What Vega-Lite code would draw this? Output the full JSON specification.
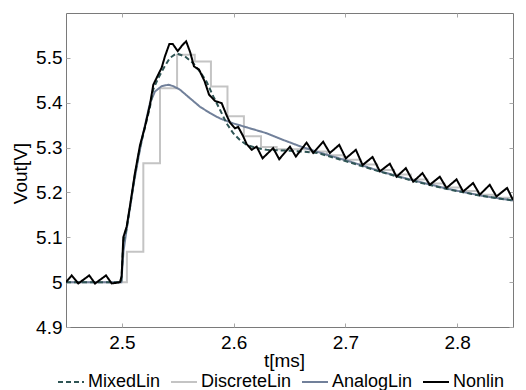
{
  "$schema": "https://vega.github.io/schema/vega-lite/v6.json",
  "width": 447,
  "height": 314,
  "autosize": {"type": "none"},
  "padding": {"left": 66, "top": 13, "right": 13, "bottom": 63},
  "background": "white",
  "config": {
    "view": {"stroke": "#7a7a7a", "strokeWidth": 1},
    "font": "Liberation Sans",
    "axis": {
      "domain": false,
      "grid": false,
      "tickSize": -4,
      "tickColor": "#a8a8a8",
      "labelFont": "Liberation Sans",
      "labelFontSize": 19,
      "labelColor": "#000000",
      "titleFont": "Liberation Sans",
      "titleFontSize": 19,
      "titleFontWeight": "normal",
      "titleColor": "#000000"
    },
    "legend": {
      "orient": "none",
      "legendX": -9,
      "legendY": 355,
      "direction": "horizontal",
      "gridAlign": "none",
      "padding": 0,
      "symbolType": "stroke",
      "symbolSize": 676,
      "symbolStrokeWidth": 2,
      "labelFont": "Liberation Sans",
      "labelFontSize": 18,
      "labelColor": "#000000",
      "labelOffset": 3,
      "columnPadding": 6,
      "title": null
    }
  },
  "datasets": {
    "d": [
      {"series": "DiscreteLin", "t": 2.45, "v": 5.0},
      {"series": "DiscreteLin", "t": 2.5045, "v": 5.068},
      {"series": "DiscreteLin", "t": 2.5192, "v": 5.265},
      {"series": "DiscreteLin", "t": 2.5341, "v": 5.432},
      {"series": "DiscreteLin", "t": 2.5494, "v": 5.507},
      {"series": "DiscreteLin", "t": 2.5652, "v": 5.492},
      {"series": "DiscreteLin", "t": 2.5797, "v": 5.436},
      {"series": "DiscreteLin", "t": 2.5945, "v": 5.37},
      {"series": "DiscreteLin", "t": 2.6092, "v": 5.325},
      {"series": "DiscreteLin", "t": 2.6245, "v": 5.301},
      {"series": "DiscreteLin", "t": 2.6385, "v": 5.296},
      {"series": "DiscreteLin", "t": 2.6535, "v": 5.296},
      {"series": "DiscreteLin", "t": 2.6685, "v": 5.291},
      {"series": "DiscreteLin", "t": 2.6835, "v": 5.283},
      {"series": "DiscreteLin", "t": 2.6985, "v": 5.273},
      {"series": "DiscreteLin", "t": 2.7135, "v": 5.262},
      {"series": "DiscreteLin", "t": 2.7285, "v": 5.25},
      {"series": "DiscreteLin", "t": 2.7435, "v": 5.24},
      {"series": "DiscreteLin", "t": 2.7585, "v": 5.229},
      {"series": "DiscreteLin", "t": 2.7735, "v": 5.22},
      {"series": "DiscreteLin", "t": 2.7885, "v": 5.211},
      {"series": "DiscreteLin", "t": 2.8035, "v": 5.203},
      {"series": "DiscreteLin", "t": 2.8185, "v": 5.195},
      {"series": "DiscreteLin", "t": 2.8335, "v": 5.188},
      {"series": "DiscreteLin", "t": 2.85, "v": 5.183},

      {"series": "AnalogLin", "t": 2.45, "v": 5.0},
      {"series": "AnalogLin", "t": 2.4995, "v": 5.0},
      {"series": "AnalogLin", "t": 2.5015, "v": 5.07},
      {"series": "AnalogLin", "t": 2.505, "v": 5.13},
      {"series": "AnalogLin", "t": 2.51, "v": 5.21},
      {"series": "AnalogLin", "t": 2.515, "v": 5.28},
      {"series": "AnalogLin", "t": 2.5191, "v": 5.332},
      {"series": "AnalogLin", "t": 2.5251, "v": 5.399},
      {"series": "AnalogLin", "t": 2.5296, "v": 5.425},
      {"series": "AnalogLin", "t": 2.5356, "v": 5.437},
      {"series": "AnalogLin", "t": 2.5415, "v": 5.44},
      {"series": "AnalogLin", "t": 2.546, "v": 5.437},
      {"series": "AnalogLin", "t": 2.552, "v": 5.429},
      {"series": "AnalogLin", "t": 2.5609, "v": 5.41},
      {"series": "AnalogLin", "t": 2.5699, "v": 5.391},
      {"series": "AnalogLin", "t": 2.5788, "v": 5.377},
      {"series": "AnalogLin", "t": 2.5877, "v": 5.365},
      {"series": "AnalogLin", "t": 2.5996, "v": 5.354},
      {"series": "AnalogLin", "t": 2.6145, "v": 5.343},
      {"series": "AnalogLin", "t": 2.6295, "v": 5.332},
      {"series": "AnalogLin", "t": 2.6444, "v": 5.317},
      {"series": "AnalogLin", "t": 2.6593, "v": 5.303},
      {"series": "AnalogLin", "t": 2.6742, "v": 5.291},
      {"series": "AnalogLin", "t": 2.704, "v": 5.269},
      {"series": "AnalogLin", "t": 2.7338, "v": 5.245},
      {"series": "AnalogLin", "t": 2.7637, "v": 5.225},
      {"series": "AnalogLin", "t": 2.7934, "v": 5.207},
      {"series": "AnalogLin", "t": 2.8233, "v": 5.192},
      {"series": "AnalogLin", "t": 2.85, "v": 5.182},

      {"series": "MixedLin", "t": 2.45, "v": 5.0},
      {"series": "MixedLin", "t": 2.4995, "v": 5.0},
      {"series": "MixedLin", "t": 2.5013, "v": 5.09},
      {"series": "MixedLin", "t": 2.5043, "v": 5.12},
      {"series": "MixedLin", "t": 2.5072, "v": 5.165},
      {"series": "MixedLin", "t": 2.5117, "v": 5.24},
      {"series": "MixedLin", "t": 2.5162, "v": 5.3},
      {"series": "MixedLin", "t": 2.5207, "v": 5.345},
      {"series": "MixedLin", "t": 2.5251, "v": 5.39},
      {"series": "MixedLin", "t": 2.5281, "v": 5.43},
      {"series": "MixedLin", "t": 2.5326, "v": 5.455},
      {"series": "MixedLin", "t": 2.5385, "v": 5.482},
      {"series": "MixedLin", "t": 2.543, "v": 5.5},
      {"series": "MixedLin", "t": 2.549, "v": 5.51},
      {"series": "MixedLin", "t": 2.5565, "v": 5.503},
      {"series": "MixedLin", "t": 2.5639, "v": 5.488},
      {"series": "MixedLin", "t": 2.5699, "v": 5.469},
      {"series": "MixedLin", "t": 2.5758, "v": 5.447},
      {"series": "MixedLin", "t": 2.5818, "v": 5.414},
      {"series": "MixedLin", "t": 2.5877, "v": 5.385},
      {"series": "MixedLin", "t": 2.5937, "v": 5.354},
      {"series": "MixedLin", "t": 2.5996, "v": 5.332},
      {"series": "MixedLin", "t": 2.6056, "v": 5.317},
      {"series": "MixedLin", "t": 2.6116, "v": 5.306},
      {"series": "MixedLin", "t": 2.6206, "v": 5.299},
      {"series": "MixedLin", "t": 2.6295, "v": 5.295},
      {"series": "MixedLin", "t": 2.6385, "v": 5.294},
      {"series": "MixedLin", "t": 2.65, "v": 5.293},
      {"series": "MixedLin", "t": 2.6624, "v": 5.291},
      {"series": "MixedLin", "t": 2.675, "v": 5.288},
      {"series": "MixedLin", "t": 2.7, "v": 5.27},
      {"series": "MixedLin", "t": 2.73, "v": 5.247},
      {"series": "MixedLin", "t": 2.76, "v": 5.226},
      {"series": "MixedLin", "t": 2.79, "v": 5.208},
      {"series": "MixedLin", "t": 2.82, "v": 5.193},
      {"series": "MixedLin", "t": 2.85, "v": 5.182},

      {"series": "Nonlin", "t": 2.45, "v": 5.0},
      {"series": "Nonlin", "t": 2.4551, "v": 5.015},
      {"series": "Nonlin", "t": 2.461, "v": 4.997},
      {"series": "Nonlin", "t": 2.4708, "v": 5.015},
      {"series": "Nonlin", "t": 2.476, "v": 4.997},
      {"series": "Nonlin", "t": 2.4858, "v": 5.015},
      {"series": "Nonlin", "t": 2.4909, "v": 4.997},
      {"series": "Nonlin", "t": 2.4983, "v": 5.0},
      {"series": "Nonlin", "t": 2.4998, "v": 5.013},
      {"series": "Nonlin", "t": 2.5013, "v": 5.1},
      {"series": "Nonlin", "t": 2.5043, "v": 5.124},
      {"series": "Nonlin", "t": 2.5072, "v": 5.169},
      {"series": "Nonlin", "t": 2.5117, "v": 5.243},
      {"series": "Nonlin", "t": 2.5162, "v": 5.305},
      {"series": "Nonlin", "t": 2.5207, "v": 5.347},
      {"series": "Nonlin", "t": 2.5251, "v": 5.395},
      {"series": "Nonlin", "t": 2.5281, "v": 5.44},
      {"series": "Nonlin", "t": 2.5326, "v": 5.463},
      {"series": "Nonlin", "t": 2.5356, "v": 5.478},
      {"series": "Nonlin", "t": 2.5385, "v": 5.503},
      {"series": "Nonlin", "t": 2.5425, "v": 5.531},
      {"series": "Nonlin", "t": 2.5455, "v": 5.531},
      {"series": "Nonlin", "t": 2.55, "v": 5.515},
      {"series": "Nonlin", "t": 2.554, "v": 5.528},
      {"series": "Nonlin", "t": 2.5575, "v": 5.537},
      {"series": "Nonlin", "t": 2.5612, "v": 5.512},
      {"series": "Nonlin", "t": 2.5645, "v": 5.481},
      {"series": "Nonlin", "t": 2.569, "v": 5.474},
      {"series": "Nonlin", "t": 2.574, "v": 5.448},
      {"series": "Nonlin", "t": 2.578, "v": 5.418},
      {"series": "Nonlin", "t": 2.5833, "v": 5.404},
      {"series": "Nonlin", "t": 2.5893, "v": 5.399},
      {"series": "Nonlin", "t": 2.5937, "v": 5.372},
      {"series": "Nonlin", "t": 2.5967, "v": 5.356},
      {"series": "Nonlin", "t": 2.6012, "v": 5.343},
      {"series": "Nonlin", "t": 2.6041, "v": 5.346},
      {"series": "Nonlin", "t": 2.6086, "v": 5.325},
      {"series": "Nonlin", "t": 2.6116, "v": 5.308},
      {"series": "Nonlin", "t": 2.6161, "v": 5.295},
      {"series": "Nonlin", "t": 2.6206, "v": 5.302},
      {"series": "Nonlin", "t": 2.6259, "v": 5.276},
      {"series": "Nonlin", "t": 2.6354, "v": 5.299},
      {"series": "Nonlin", "t": 2.6408, "v": 5.274},
      {"series": "Nonlin", "t": 2.6504, "v": 5.302},
      {"series": "Nonlin", "t": 2.6557, "v": 5.28},
      {"series": "Nonlin", "t": 2.6653, "v": 5.311},
      {"series": "Nonlin", "t": 2.6712, "v": 5.288},
      {"series": "Nonlin", "t": 2.6801, "v": 5.313},
      {"series": "Nonlin", "t": 2.6861, "v": 5.288},
      {"series": "Nonlin", "t": 2.6945, "v": 5.306},
      {"series": "Nonlin", "t": 2.7004, "v": 5.276},
      {"series": "Nonlin", "t": 2.7094, "v": 5.295},
      {"series": "Nonlin", "t": 2.7154, "v": 5.261},
      {"series": "Nonlin", "t": 2.7243, "v": 5.279},
      {"series": "Nonlin", "t": 2.7309, "v": 5.247},
      {"series": "Nonlin", "t": 2.7398, "v": 5.264},
      {"series": "Nonlin", "t": 2.7458, "v": 5.235},
      {"series": "Nonlin", "t": 2.7541, "v": 5.254},
      {"series": "Nonlin", "t": 2.7607, "v": 5.224},
      {"series": "Nonlin", "t": 2.769, "v": 5.243},
      {"series": "Nonlin", "t": 2.7756, "v": 5.217},
      {"series": "Nonlin", "t": 2.7845, "v": 5.235},
      {"series": "Nonlin", "t": 2.7905, "v": 5.21},
      {"series": "Nonlin", "t": 2.7995, "v": 5.229},
      {"series": "Nonlin", "t": 2.8054, "v": 5.202},
      {"series": "Nonlin", "t": 2.8143, "v": 5.221},
      {"series": "Nonlin", "t": 2.8203, "v": 5.195},
      {"series": "Nonlin", "t": 2.8292, "v": 5.217},
      {"series": "Nonlin", "t": 2.8352, "v": 5.191},
      {"series": "Nonlin", "t": 2.8447, "v": 5.21},
      {"series": "Nonlin", "t": 2.85, "v": 5.183}
    ]
  },
  "layer": [
    {
      "data": {"name": "d"},
      "encoding": {
        "x": {
          "field": "t", "type": "quantitative",
          "scale": {"domain": [2.45, 2.85], "nice": false, "zero": false},
          "axis": {"orient": "bottom", "values": [2.5, 2.6, 2.7, 2.8], "title": "t[ms]", "labelPadding": 10, "titleX": 218, "titleY": 39, "titleBaseline": "alphabetic", "titleAnchor": "middle", "titleAlign": "center"}
        },
        "y": {
          "field": "v", "type": "quantitative",
          "scale": {"domain": [4.9, 5.6], "nice": false, "zero": false},
          "axis": {"orient": "left", "values": [4.9, 5.0, 5.1, 5.2, 5.3, 5.4, 5.5], "format": "~g", "title": "Vout[V]", "labelPadding": 8, "titleX": -46, "titleY": 160, "titleBaseline": "middle", "titleAngle": -90, "titleAlign": "center"}
        },
        "color": {
          "field": "series", "type": "nominal",
          "scale": {"domain": ["MixedLin", "DiscreteLin", "AnalogLin", "Nonlin"], "range": ["#2f5555", "#c4c4c4", "#71809a", "#000000"]},
          "legend": {"title": null}
        },
        "strokeDash": {
          "field": "series", "type": "nominal",
          "scale": {"domain": ["MixedLin", "DiscreteLin", "AnalogLin", "Nonlin"], "range": [[5, 3], [1, 0], [1, 0], [1, 0]]},
          "legend": {"title": null}
        }
      },
      "layer": [
        {"transform": [{"filter": "datum.series === 'DiscreteLin'"}], "mark": {"type": "line", "interpolate": "step-after", "strokeWidth": 2, "clip": true}},
        {"transform": [{"filter": "datum.series === 'AnalogLin'"}], "mark": {"type": "line", "strokeWidth": 2, "clip": true}},
        {"transform": [{"filter": "datum.series === 'MixedLin'"}], "mark": {"type": "line", "strokeWidth": 2, "clip": true}},
        {"transform": [{"filter": "datum.series === 'Nonlin'"}], "mark": {"type": "line", "strokeWidth": 2, "clip": true}}
      ]
    },
    {
      "data": {"name": "d"},
      "transform": [{"filter": "datum.series === 'Nonlin'"}],
      "mark": {"type": "line", "opacity": 0},
      "encoding": {
        "x": {
          "field": "t", "type": "quantitative",
          "scale": {"domain": [2.45, 2.85], "nice": false, "zero": false},
          "axis": {"orient": "top", "values": [2.5, 2.6, 2.7, 2.8], "labels": false, "title": null}
        },
        "y": {
          "field": "v", "type": "quantitative",
          "scale": {"domain": [4.9, 5.6], "nice": false, "zero": false},
          "axis": {"orient": "right", "values": [4.9, 5.0, 5.1, 5.2, 5.3, 5.4, 5.5], "labels": false, "title": null}
        }
      }
    }
  ],
  "resolve": {"scale": {"x": "independent", "y": "independent"}}
}
